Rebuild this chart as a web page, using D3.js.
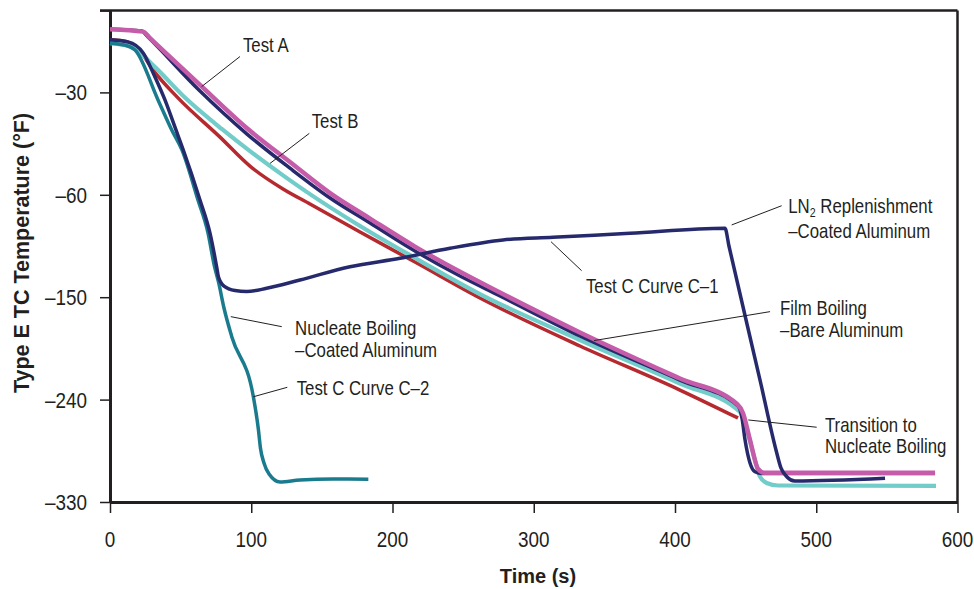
<!DOCTYPE html>
<html lang="en">
<head>
<meta charset="UTF-8">
<title>Type E TC Temperature vs Time</title>
<script src="https://d3js.org/d3.v7.min.js"></script>
<style>
  body { margin: 0; background: #fff; }
  svg { display: block; }
  text { font-family: "Liberation Sans", Arial, Helvetica, sans-serif; fill: #231f20; }
</style>
</head>
<body>
<svg width="974" height="589"></svg>
<script>
// [time (s), temperature (°F)]
const testA = [[0,-11.5],[23.4,-12.2],[28.3,-14.1],[63.7,-27.8],[97.0,-40.5],[127.4,-50.4],[155.8,-59.5],
  [184.1,-80.9],[215.9,-105.5],[247.8,-127.7],[276.1,-145.9],[332.7,-181.0],[403.5,-221.5],
  [443.9,-243.9],[448.1,-251.8],[453.1,-275.5],[458.8,-301.0],[463.0,-304.2],[584.1,-304.2]];
const testB = [[0,-11.5],[22.4,-12.0],[26.9,-13.8],[63.7,-29.6],[97.0,-42.2],[127.4,-52.2],[155.8,-62.8],
  [184.1,-84.8],[215.9,-109.4],[247.8,-131.4],[276.1,-148.9],[332.7,-184.1],[403.5,-222.8],
  [444.6,-245.6],[447.4,-256.2],[449.6,-275.5],[453.1,-295.7],[456.6,-303.4],[461.6,-305.0],[584.1,-305.0]];
const cyanRun = [[0,-15.6],[15.4,-16.6],[30.4,-22.0],[53.8,-31.8],[79.1,-40.7],[99.1,-47.2],[122.5,-54.3],
  [141.6,-59.8],[177.0,-87.4],[215.9,-115.5],[261.9,-147.2],[332.7,-187.6],[403.5,-225.9],[446.0,-250.9],
  [450.8,-266.7],[456.6,-293.1],[460.2,-307.8],[464.9,-313.3],[472.9,-315.5],[584.8,-315.9]];
const bareRun = [[0,-14.6],[11.3,-15.1],[21.2,-17.9],[30.4,-23.4],[48.1,-31.6],[77.9,-43.1],[99.1,-51.6],
  [122.5,-58.3],[141.6,-68.1],[177.0,-92.7],[215.9,-119.1],[261.9,-150.7],[332.7,-192.9],[403.5,-231.6],
  [444.6,-256.2]];
const curveC1 = [[0,-14.6],[12.7,-15.2],[23.6,-18.5],[31.2,-24.9],[38.9,-32.2],[46.7,-41.0],[51.9,-46.9],
  [63.7,-64.6],[70.8,-93.8],[75.5,-123.2],[76.8,-132.2],[80.7,-140.2],[88.5,-144.1],[96.8,-145.0],
  [110.9,-142.2],[134.5,-134.9],[169.9,-123.2],[205.3,-115.8],[240.7,-107.0],[278.2,-99.7],
  [313.6,-97.4],[368.1,-93.8],[435.4,-89.4],[438.2,-105.0],[460.2,-222.8],[471.5,-284.3],
  [475.0,-300.1],[479.3,-308.0],[484.8,-311.6],[548.7,-309.2]];
const curveC2 = [[0,-15.6],[9.9,-16.1],[17.7,-17.6],[34.0,-32.2],[43.7,-41.0],[51.0,-46.9],[62.3,-64.6],
  [69.4,-93.6],[74.0,-123.2],[76.8,-136.6],[80.7,-159.5],[86.2,-184.7],[101.5,-237.5],[105.1,-266.7],
  [106.5,-282.5],[109.0,-295.7],[112.6,-305.4],[120.4,-312.4],[134.5,-310.6],[158.1,-309.8],[182.9,-310.0]];

const xTicks = [0, 100, 200, 300, 400, 500, 600];
const yTicks = [-330, -240, -150, -60, -30];
const yTop = -6;

// annotations: point on curve, start of leader, text offset from leader start
const notes = [
  { pt: [64.9, -28.3],  from: [92.0, -19.5],  dx: 3,   dy: -4.4, lines: ["Test A"] },
  { pt: [113.3, -50.8], from: [141.1, -42.0], dx: 2.4, dy: -5,   lines: ["Test B"] },
  { pt: [312.2, -101.2], from: [333.9, -126.7], dx: 4.3, dy: 22, lines: ["Test C Curve C\u20131"] },
  { pt: [440.1, -86.5], from: [475.5, -69.6], dx: 6.6, dy: 7.6,  lines: ["LN2", "\u2013Coated Aluminum"], sub: true },
  { pt: [342.7, -188.1], from: [467.3, -162.7], dx: 10, dy: 3.3, lines: ["Film Boiling", "\u2013Bare Aluminum"] },
  { pt: [451.9, -257.9], from: [500.3, -264.3], dx: 8.3, dy: 4.4, lines: ["Transition to", "Nucleate Boiling"] },
  { pt: [85.5, -167.1], from: [121.6, -175.9], dx: 13.3, dy: 8.3, lines: ["Nucleate Boiling", "\u2013Coated Aluminum"] },
  { pt: [101.5, -237.5], from: [125.5, -229.2], dx: 9.4, dy: 7.7, lines: ["Test C Curve C\u20132"] }
];

const svg = d3.select("svg");
const ink = "#231f20";

const x = d3.scaleLinear().domain([0, 600]).range([110, 957.5]);

// the y axis is stepped: each tick gets the same height on the page
const yBreaks = yTicks.concat([yTop]);
const band = 102.4, bottom = 502;
const yRange = [bottom];
for (let i = 1; i < yBreaks.length; i++) {
  const frac = i === yBreaks.length - 1 ? (yBreaks[i] - yBreaks[i-1]) / (yBreaks[i-1] - yBreaks[i-2]) : 1;
  yRange.push(yRange[i-1] - band * frac);
}
const y = d3.scaleLinear().domain(yBreaks).range(yRange);

// condensed text helper
function ctext(g, px, py, str, size, anchor, sx) {
  return g.append("text")
    .attr("transform", `translate(${px},${py}) scale(${sx},1)`)
    .attr("font-size", size)
    .attr("text-anchor", anchor)
    .text(str);
}

// frame: top and right border
svg.append("line").attr("x1", 100).attr("x2", x(600)).attr("y1", y(yTop)).attr("y2", y(yTop))
  .attr("stroke", ink).attr("stroke-width", 2.5);
svg.append("line").attr("x1", x(600)).attr("x2", x(600)).attr("y1", y(yTop)).attr("y2", y(-330))
  .attr("stroke", ink).attr("stroke-width", 2.5);

// axes
const gx = svg.append("g").attr("transform", `translate(0,${y(-330)})`)
  .call(d3.axisBottom(x).tickValues(xTicks).tickSize(11).tickSizeOuter(0).tickFormat(""));
const gy = svg.append("g").attr("transform", `translate(${x(0)},0)`)
  .call(d3.axisLeft(y).tickValues(yBreaks).tickSize(10).tickSizeOuter(0).tickFormat(""));
[gx, gy].forEach(g => {
  g.select(".domain").attr("stroke", ink).attr("stroke-width", 3);
  g.selectAll(".tick line").attr("stroke", ink).attr("stroke-width", 1.5);
});

const labels = svg.append("g");
xTicks.forEach(d => ctext(labels, x(d), 547, d, 22.5, "middle", 0.84));
yTicks.forEach(d => ctext(labels, 87, y(d) + 8, "\u2013" + Math.abs(d), 22.5, "end", 0.84));

svg.append("text").attr("x", 538).attr("y", 583).attr("text-anchor", "middle")
  .attr("font-size", 20).attr("font-weight", "bold").text("Time (s)");
svg.append("text").attr("transform", `translate(29,253) rotate(-90)`).attr("text-anchor", "middle")
  .attr("font-size", 21.5).attr("font-weight", "bold").text("Type E TC Temperature (\u00b0F)");

// curves
const line = d3.line().x(d => x(d[0])).y(d => y(d[1])).curve(d3.curveMonotoneX);
const series = [
  { data: bareRun, color: "#b62a2f", w: 3.5 },
  { data: cyanRun, color: "#72cdca", w: 4.2 },
  { data: testB,   color: "#262a6c", w: 3.5 },
  { data: testA,   color: "#c55ca9", w: 4.5 },
  { data: curveC2, color: "#1b7b8e", w: 3.5 },
  { data: curveC1, color: "#262a6c", w: 3.5 }
];
svg.append("g").selectAll("path").data(series).enter().append("path")
  .attr("d", d => line(d.data))
  .attr("fill", "none")
  .attr("stroke", d => d.color)
  .attr("stroke-width", d => d.w)
  .attr("stroke-linejoin", "round");

// annotations
const ann = svg.append("g");
notes.forEach(n => {
  const fx = x(n.from[0]), fy = y(n.from[1]);
  ann.append("line").attr("x1", fx).attr("y1", fy).attr("x2", x(n.pt[0])).attr("y2", y(n.pt[1]))
    .attr("stroke", ink).attr("stroke-width", 1);
  n.lines.forEach((s, i) => {
    const gap = n.sub ? 25 : 21.7;
    const t = ctext(ann, fx + n.dx, fy + n.dy + i * gap, i === 0 && n.sub ? "" : s, 20.5, "start", 0.82);
    if (i === 0 && n.sub) {
      t.append("tspan").text("LN");
      t.append("tspan").attr("font-size", 13).attr("dy", 3.5).text("2");
      t.append("tspan").attr("dy", -3.5).text(" Replenishment");
    }
  });
});
</script>
</body>
</html>
